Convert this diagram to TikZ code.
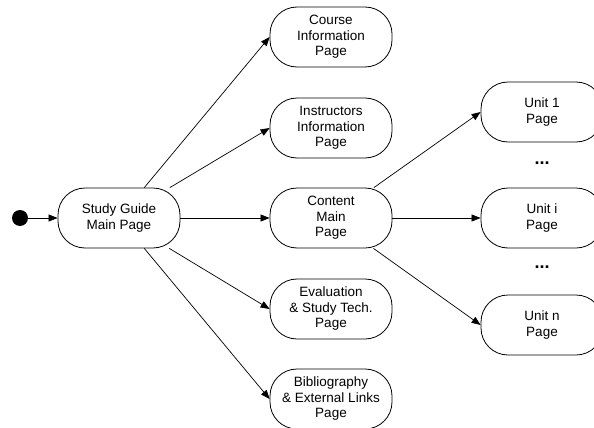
\documentclass[tikz,border=0pt]{standalone}
\usepackage{fontspec}
\setmainfont{Liberation Sans}
\usetikzlibrary{arrows.meta}
\begin{document}
\begin{tikzpicture}[x=1pt,y=-1pt,
  state/.style={draw,line width=0.8pt,rounded corners=27pt,minimum width=122pt,minimum height=60pt,inner sep=0pt,align=center,font=\fontsize{13.5}{15.5}\selectfont},
  arr/.style={-{Triangle[length=9pt,width=7pt]},line width=0.7pt},
  dotsnode/.style={font=\fontsize{18}{18}\selectfont\bfseries,inner sep=0pt}]
\useasboundingbox (0,0) rectangle (594,428);
\node[circle,fill=black,minimum size=16pt,inner sep=0pt] (start) at (20,218) {};
\node[state] (sg) at (119,218) {Study Guide\\Main Page};
\node[state] (course) at (331,37) {Course\\Information\\Page};
\node[state] (instr) at (331,128) {Instructors\\Information\\Page};
\node[state] (content) at (331,218) {Content\\Main\\Page};
\node[state] (eval) at (331,309) {Evaluation\\\& Study Tech.\\Page};
\node[state] (bib) at (331,399) {Bibliography\\\& External Links\\Page};
\node[state] (u1) at (542,112) {Unit 1\\Page};
\node[state] (ui) at (542,218) {Unit i\\Page};
\node[state] (un) at (542,325) {Unit n\\Page};
\node[dotsnode] (d1) at (542,163) {...};
\node[dotsnode] (d2) at (542,267) {...};
\draw[arr] (start) -- (sg.west);
\draw[arr] (sg) -- (course.west);
\draw[arr] (sg) -- (instr.west);
\draw[arr] (sg) -- (content.west);
\draw[arr] (sg) -- (eval.west);
\draw[arr] (sg) -- (bib.west);
\draw[arr] (content) -- (u1.west);
\draw[arr] (content) -- (ui.west);
\draw[arr] (content) -- (un.west);
\end{tikzpicture}
\end{document}
